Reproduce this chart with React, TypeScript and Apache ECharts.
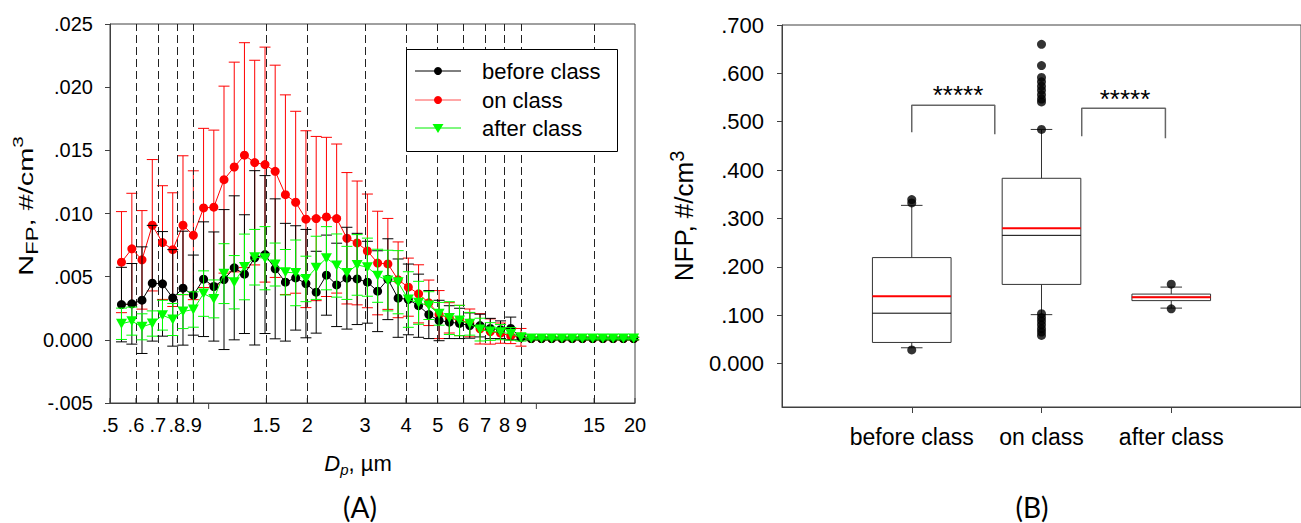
import React, { useEffect, useRef } from 'react';
import * as echarts from 'echarts';

// ---------- Panel A data (APS channel midpoints, µm) ----------
const diameters = [0.542, 0.583, 0.626, 0.673, 0.723, 0.777, 0.835, 0.898, 0.965, 1.037, 1.114, 1.197, 1.286, 1.382, 1.486, 1.596, 1.715, 1.843, 1.981, 2.129, 2.288, 2.458, 2.642, 2.839, 3.051, 3.278, 3.523, 3.786, 4.068, 4.371, 4.698, 5.048, 5.425, 5.829, 6.264, 6.732, 7.234, 7.774, 8.354, 8.977, 9.647, 10.37, 11.14, 11.97, 12.86, 13.82, 14.86, 15.96, 17.15, 18.43, 19.81];

const beforeMean = [0.00279, 0.00285, 0.00314, 0.00448, 0.00443, 0.00332, 0.00409, 0.00354, 0.0048, 0.00422, 0.00477, 0.0057, 0.0052, 0.00649, 0.00675, 0.00562, 0.00456, 0.0049, 0.00445, 0.00377, 0.00512, 0.00435, 0.00488, 0.00482, 0.00456, 0.00385, 0.0048, 0.0033, 0.0032, 0.0027, 0.002, 0.00153, 0.0014, 0.0013, 0.00113, 0.00113, 0.0009, 0.0008, 0.0009, 0.0002, 0.0001, 0.0001, 0.0001, 0.0001, 0.0001, 0.0001, 0.0001, 0.0001, 0.0001, 0.0001, 0.0001];
const beforeSd = [0.00295, 0.00319, 0.00422, 0.00458, 0.00414, 0.00382, 0.00451, 0.00317, 0.00454, 0.00432, 0.00554, 0.0057, 0.0047, 0.0069, 0.00625, 0.00554, 0.00466, 0.00413, 0.00429, 0.00324, 0.00317, 0.0033, 0.00403, 0.00361, 0.00324, 0.0032, 0.0032, 0.0031, 0.0028, 0.0025, 0.0019, 0.0016, 0.0013, 0.0012, 0.001, 0.0009, 0.0008, 0.0007, 0.0009, 0.0002, 0.0001, 0.0001, 0.0001, 0.0001, 0.0001, 0.0001, 0.0001, 0.0001, 0.0001, 0.0001, 0.0001];

const onMean = [0.00615, 0.0072, 0.00633, 0.00907, 0.0077, 0.00714, 0.00907, 0.00828, 0.01044, 0.0105, 0.01268, 0.01368, 0.01462, 0.01403, 0.01387, 0.01334, 0.01149, 0.01089, 0.00955, 0.0096, 0.00973, 0.0096, 0.00804, 0.00767, 0.00704, 0.00608, 0.00601, 0.00475, 0.00417, 0.00364, 0.00293, 0.002, 0.00174, 0.00153, 0.00134, 0.00087, 0.00066, 0.00053, 0.0003, 0.0002, 0.0001, 0.0001, 0.0001, 0.0001, 0.0001, 0.0001, 0.0001, 0.0001, 0.0001, 0.0001, 0.0001];
const onSd = [0.004, 0.0044, 0.0039, 0.0052, 0.0045, 0.0045, 0.0055, 0.0051, 0.0063, 0.0061, 0.0074, 0.0083, 0.0089, 0.0081, 0.0093, 0.0084, 0.0079, 0.0072, 0.007, 0.0065, 0.0063, 0.0059, 0.0052, 0.0049, 0.0045, 0.0041, 0.0036, 0.003, 0.0023, 0.0023, 0.0018, 0.0019, 0.0012, 0.0012, 0.0011, 0.0012, 0.001, 0.0008, 0.0006, 0.0007, 0.0001, 0.0001, 0.0001, 0.0001, 0.0001, 0.0001, 0.0001, 0.0001, 0.0001, 0.0001, 0.0001];

const afterMean = [0.00127, 0.00148, 0.00103, 0.00129, 0.00195, 0.00161, 0.00224, 0.0024, 0.00366, 0.00324, 0.00524, 0.00456, 0.00577, 0.00654, 0.00646, 0.00596, 0.00535, 0.0053, 0.00482, 0.0057, 0.00646, 0.00588, 0.0053, 0.00593, 0.00575, 0.00507, 0.00469, 0.00456, 0.00319, 0.00293, 0.00271, 0.00206, 0.00172, 0.00153, 0.00127, 0.00081, 0.00066, 0.00061, 0.00047, 0.0002, 0.0001, 0.0001, 0.0001, 0.0001, 0.0001, 0.0001, 0.0001, 0.0001, 0.0001, 0.0001, 0.0001];
const afterSd = [0.00124, 0.00111, 0.00103, 0.001, 0.00118, 0.00127, 0.00135, 0.0014, 0.0018, 0.0015, 0.00237, 0.00211, 0.0026, 0.0022, 0.0025, 0.0017, 0.0018, 0.0026, 0.0018, 0.0025, 0.0025, 0.0025, 0.0021, 0.0024, 0.0023, 0.0021, 0.0024, 0.0025, 0.0022, 0.0017, 0.0011, 0.0009, 0.0013, 0.0012, 0.0009, 0.0009, 0.0007, 0.0006, 0.0005, 0.0003, 0.0001, 0.0001, 0.0001, 0.0001, 0.0001, 0.0001, 0.0001, 0.0001, 0.0001, 0.0001, 0.0001];

const seriesNames = ['before class', 'on class', 'after class'];
const xTickValues = [0.5, 0.6, 0.7, 0.8, 0.9, 1, 1.5, 2, 3, 4, 5, 6, 7, 8, 9, 10, 15, 20];
const xTickLabels = ['.5', '.6', '.7', '.8', '.9', '', '1.5', '2', '3', '4', '5', '6', '7', '8', '9', '', '15', '20'];
const xMajorTicks = [1, 10];
const dashedLines = [0.6, 0.7, 0.8, 0.9, 1.5, 2, 3, 4, 5, 6, 7, 8, 9, 15];
const leftYMin = -0.005;
const leftYMax = 0.025;

// ---------- Panel B data ----------
const boxCategories = ['before class', 'on class', 'after class'];
const boxPositions = [1, 2, 3];
const boxWhiskerLow = [0.0325, 0.101, 0.1145];
const boxQ1 = [0.0435, 0.1635, 0.130];
const boxMedian = [0.104, 0.265, 0.137];
const boxQ3 = [0.219, 0.383, 0.1435];
const boxWhiskerHigh = [0.327, 0.484, 0.158];
const boxMean = [0.139, 0.2795, 0.137];
const beforeOutliers = [0.028, 0.332, 0.339];
const onOutliers = [0.484, 0.541, 0.547, 0.556, 0.565, 0.5735, 0.5825, 0.5915, 0.616, 0.66, 0.103, 0.095, 0.088, 0.080, 0.072, 0.065, 0.058];
const afterOutliers = [0.164, 0.113];
const rightYTicks = [0, 0.1, 0.2, 0.3, 0.4, 0.5, 0.6, 0.7];
const bracket1X = [1.0, 1.0, 1.64, 1.64];
const bracket1Y = [0.478, 0.534, 0.534, 0.474];
const bracket2X = [2.31, 2.31, 2.955, 2.955];
const bracket2Y = [0.47, 0.528, 0.528, 0.466];

const FONT = "'Liberation Sans', Arial, sans-serif";
const AXIS_COLOR = '#404040';

function fmt3(v: number) {
  const r = Math.round(v * 1000) / 1000;
  if (r === 0) return '0.000';
  const s = Math.abs(r).toFixed(3).replace(/^0/, '');
  return (r < 0 ? '-' : '') + s;
}

function errorBarSeries(mean: number[], sd: number[], color: string, z: number) {
  return {
    type: 'custom',
    xAxisIndex: 0,
    yAxisIndex: 0,
    z,
    silent: true,
    encode: { x: 0, y: [1, 2] },
    data: diameters.map((d, i) => [d, mean[i] - sd[i], mean[i] + sd[i]]),
    renderItem: (params: any, api: any) => {
      const x = api.value(0);
      const lo = api.coord([x, api.value(1)]);
      const hi = api.coord([x, api.value(2)]);
      const hw = 5.5;
      const st = { stroke: color, lineWidth: 1 };
      return {
        type: 'group',
        children: [
          { type: 'line', shape: { x1: lo[0], y1: lo[1], x2: hi[0], y2: hi[1] }, style: st },
          { type: 'line', shape: { x1: hi[0] - hw, y1: hi[1], x2: hi[0] + hw, y2: hi[1] }, style: st },
          { type: 'line', shape: { x1: lo[0] - hw, y1: lo[1], x2: lo[0] + hw, y2: lo[1] }, style: st },
        ],
      };
    },
  };
}

function lineSeries(name: string, mean: number[], color: string, symbol: string, size: any, rotate: number, z: number) {
  return {
    type: 'line',
    name,
    xAxisIndex: 0,
    yAxisIndex: 0,
    z,
    data: diameters.map((d, i) => [d, mean[i]]),
    symbol,
    symbolSize: size,
    symbolRotate: rotate,
    showSymbol: true,
    lineStyle: { color, width: 1 },
    itemStyle: { color, borderWidth: 0 },
  };
}

function buildOption() {
  const outlierData: number[][] = [];
  beforeOutliers.forEach((v) => outlierData.push([boxPositions[0], v]));
  onOutliers.forEach((v) => outlierData.push([boxPositions[1], v]));
  afterOutliers.forEach((v) => outlierData.push([boxPositions[2], v]));

  const legendY = [71, 100, 128];
  const legendColors = ['#000000', '#ff5050', '#00ee00'];
  const legendGraphics: any[] = [
    { type: 'rect', z: 100, shape: { x: 406.5, y: 49.5, width: 211, height: 102 }, style: { fill: '#fff', stroke: '#000', lineWidth: 1 } },
  ];
  seriesNames.forEach((n, i) => {
    legendGraphics.push({ type: 'line', z: 101, shape: { x1: 415, y1: legendY[i], x2: 461, y2: legendY[i] }, style: { stroke: legendColors[i], lineWidth: 1 } });
    if (i < 2) {
      legendGraphics.push({ type: 'circle', z: 102, shape: { cx: 438, cy: legendY[i], r: 4 }, style: { fill: i === 0 ? '#000' : '#ff0000' } });
    } else {
      legendGraphics.push({ type: 'polygon', z: 102, shape: { points: [[432.5, legendY[i] - 4], [443.5, legendY[i] - 4], [438, legendY[i] + 5]] }, style: { fill: '#00ff00' } });
    }
    legendGraphics.push({ type: 'text', z: 102, x: 482, y: legendY[i], style: { text: n, font: `22px ${FONT}`, fill: '#000', align: 'left', verticalAlign: 'middle' } });
  });

  return {
    animation: false,
    backgroundColor: '#ffffff',
    textStyle: { fontFamily: FONT },
    grid: [
      { left: 110, top: 24, width: 525, height: 379, show: true, borderColor: AXIS_COLOR, borderWidth: 1, backgroundColor: 'transparent' },
      { left: 782, top: 25, width: 528, height: 382, show: true, borderColor: AXIS_COLOR, borderWidth: 1, backgroundColor: 'transparent' },
    ],
    xAxis: [
      {
        type: 'log', logBase: 10, gridIndex: 0, min: 0.5, max: 20,
        axisLine: { show: true, onZero: false, lineStyle: { color: AXIS_COLOR } },
        axisTick: { show: false }, axisLabel: { show: false },
        splitLine: { show: false }, minorTick: { show: false },
      },
      {
        type: 'value', gridIndex: 1, min: 0, max: 4, interval: 1,
        axisLine: { show: true, onZero: false, lineStyle: { color: AXIS_COLOR } },
        axisTick: { show: true, length: 6, customValues: boxPositions, lineStyle: { color: AXIS_COLOR } },
        axisLabel: {
          show: true, customValues: boxPositions, fontSize: 23, color: '#000', fontFamily: FONT, margin: 18,
          formatter: (v: number) => boxCategories[Math.round(v) - 1] || '',
        },
        splitLine: { show: false },
      },
    ],
    yAxis: [
      {
        type: 'value', gridIndex: 0, min: leftYMin, max: leftYMax, interval: 0.005,
        axisLine: { show: true, onZero: false, lineStyle: { color: AXIS_COLOR } },
        axisTick: { show: true, length: 5, lineStyle: { color: AXIS_COLOR } },
        axisLabel: { fontSize: 20, color: '#000', fontFamily: FONT, margin: 17, formatter: fmt3 },
        splitLine: { show: false },
      },
      {
        type: 'value', gridIndex: 1, min: -0.09, max: 0.7,
        axisLine: { show: true, onZero: false, lineStyle: { color: AXIS_COLOR } },
        axisTick: { show: true, length: 5, customValues: rightYTicks, lineStyle: { color: AXIS_COLOR } },
        axisLabel: { fontSize: 22, color: '#000', fontFamily: FONT, margin: 18, customValues: rightYTicks, formatter: fmt3 },
        splitLine: { show: false },
      },
    ],
    series: [
      {
        type: 'line', xAxisIndex: 0, yAxisIndex: 0, z: 1, data: [], silent: true,
        markLine: {
          silent: true, symbol: 'none', label: { show: false },
          lineStyle: { type: [8, 4], color: '#222', width: 1 },
          data: dashedLines.map((v) => ({ xAxis: v })),
        },
      },
      // x-axis ticks and labels of panel A, through the log scale
      {
        type: 'custom', xAxisIndex: 0, yAxisIndex: 0, z: 3, silent: true, clip: false,
        encode: { x: 0, y: 1 },
        data: xTickValues.map((v) => [v, leftYMin]),
        renderItem: (params: any, api: any) => {
          const v = api.value(0);
          const p = api.coord([v, leftYMin]);
          const major = xMajorTicks.indexOf(v) >= 0;
          const label = xTickLabels[params.dataIndex];
          return {
            type: 'group',
            children: [
              { type: 'line', shape: { x1: p[0], y1: p[1], x2: p[0], y2: major ? p[1] + 6 : p[1] - 5 }, style: { stroke: AXIS_COLOR, lineWidth: 1 } },
              { type: 'text', x: p[0], y: p[1] + 12, style: { text: label, font: `20px ${FONT}`, fill: '#000', align: 'center', verticalAlign: 'top' } },
            ],
          };
        },
      },
      errorBarSeries(onMean, onSd, '#ff0000', 4),
      lineSeries('on class', onMean, '#ff0000', 'circle', 9, 0, 5),
      errorBarSeries(beforeMean, beforeSd, '#000000', 6),
      lineSeries('before class', beforeMean, '#000000', 'circle', 9, 0, 7),
      errorBarSeries(afterMean, afterSd, '#00ff00', 8),
      lineSeries('after class', afterMean, '#00ff00', 'triangle', [11, 10], 180, 9),
      // Panel B box plots
      {
        type: 'custom', xAxisIndex: 1, yAxisIndex: 1, z: 4, silent: true,
        encode: { x: 0, y: [1, 2, 3, 4, 5, 6] },
        data: boxPositions.map((x, i) => [x, boxWhiskerLow[i], boxQ1[i], boxMedian[i], boxQ3[i], boxWhiskerHigh[i], boxMean[i]]),
        renderItem: (params: any, api: any) => {
          const x = api.value(0);
          const lo = api.value(1), q1 = api.value(2), med = api.value(3), q3 = api.value(4), hi = api.value(5), mean = api.value(6);
          const boxHalf = 0.303, capHalf = 0.083;
          const L = api.coord([x - boxHalf, q1]);
          const R = api.coord([x + boxHalf, q3]);
          const cx = api.coord([x, 0])[0];
          const capL = api.coord([x - capHalf, 0])[0];
          const capR = api.coord([x + capHalf, 0])[0];
          const y = (v: number) => api.coord([x, v])[1];
          const st = { stroke: '#333', lineWidth: 1 };
          return {
            type: 'group',
            children: [
              { type: 'line', shape: { x1: cx, y1: y(hi), x2: cx, y2: y(q3) }, style: st },
              { type: 'line', shape: { x1: cx, y1: y(q1), x2: cx, y2: y(lo) }, style: st },
              { type: 'line', shape: { x1: capL, y1: y(hi), x2: capR, y2: y(hi) }, style: st },
              { type: 'line', shape: { x1: capL, y1: y(lo), x2: capR, y2: y(lo) }, style: st },
              { type: 'rect', shape: { x: L[0], y: R[1], width: R[0] - L[0], height: L[1] - R[1] }, style: { stroke: '#333', lineWidth: 1, fill: 'none' } },
              { type: 'line', shape: { x1: L[0], y1: y(med), x2: R[0], y2: y(med) }, style: { stroke: '#000', lineWidth: 1 } },
              { type: 'line', shape: { x1: L[0], y1: y(mean), x2: R[0], y2: y(mean) }, style: { stroke: '#ff0000', lineWidth: 2 } },
            ],
          };
        },
      },
      {
        type: 'scatter', xAxisIndex: 1, yAxisIndex: 1, z: 5, silent: true,
        symbol: 'circle', symbolSize: 9, itemStyle: { color: '#000' },
        data: outlierData,
      },
      {
        type: 'line', xAxisIndex: 1, yAxisIndex: 1, z: 5, silent: true, symbol: 'none',
        lineStyle: { color: '#666', width: 1.5 },
        data: bracket1X.map((x, i) => [x, bracket1Y[i]]),
      },
      {
        type: 'line', xAxisIndex: 1, yAxisIndex: 1, z: 5, silent: true, symbol: 'none',
        lineStyle: { color: '#666', width: 1.5 },
        data: bracket2X.map((x, i) => [x, bracket2Y[i]]),
      },
    ],
    graphic: [
      ...legendGraphics,
      // panel A y title
      {
        type: 'text', x: 26, y: 206, rotation: Math.PI / 2, scaleX: 1.38, z: 50,
        style: {
          text: '{n|N}{s|FP}{n|, #/cm}{p|3}',
          align: 'center', verticalAlign: 'middle', fill: '#000',
          rich: {
            n: { fontSize: 21, fontFamily: FONT, lineHeight: 30, verticalAlign: 'middle', fill: '#000' },
            s: { fontSize: 16, fontFamily: FONT, lineHeight: 26, verticalAlign: 'bottom', fill: '#000' },
            p: { fontSize: 15, fontFamily: FONT, lineHeight: 10, verticalAlign: 'top', fill: '#000' },
          },
        },
      },
      // panel A x title
      {
        type: 'text', x: 358, y: 463, z: 50,
        style: {
          text: '{d|D}{s|p}{n|, µm}',
          align: 'center', verticalAlign: 'middle', fill: '#000',
          rich: {
            d: { fontSize: 22, fontFamily: FONT, fontStyle: 'italic', lineHeight: 28, verticalAlign: 'middle', fill: '#000' },
            s: { fontSize: 15, fontFamily: FONT, fontStyle: 'italic', lineHeight: 14, verticalAlign: 'bottom', fill: '#000' },
            n: { fontSize: 22, fontFamily: FONT, lineHeight: 28, verticalAlign: 'middle', fill: '#000' },
          },
        },
      },
      // panel B y title
      {
        type: 'text', x: 684, y: 216, rotation: Math.PI / 2, z: 50,
        style: {
          text: '{n|NFP, #/cm}{p|3}',
          align: 'center', verticalAlign: 'middle', fill: '#000',
          rich: {
            n: { fontSize: 26, fontFamily: FONT, lineHeight: 34, verticalAlign: 'middle', fill: '#000' },
            p: { fontSize: 20, fontFamily: FONT, lineHeight: 12, verticalAlign: 'top', fill: '#000' },
          },
        },
      },
      // significance stars
      { type: 'text', x: 958, y: 95, z: 50, style: { text: '*****', font: `26px ${FONT}`, fill: '#000', align: 'center', verticalAlign: 'middle' } },
      { type: 'text', x: 1125, y: 99, z: 50, style: { text: '*****', font: `26px ${FONT}`, fill: '#000', align: 'center', verticalAlign: 'middle' } },
      // panel letters
      { type: 'text', x: 360, y: 507, z: 50, style: { text: '(A)', font: '28px Lato, sans-serif', fill: '#000', align: 'center', verticalAlign: 'middle' } },
      { type: 'text', x: 1032, y: 507, z: 50, style: { text: '(B)', font: '28px Lato, sans-serif', fill: '#000', align: 'center', verticalAlign: 'middle' } },
    ],
  };
}

export default function App() {
  const ref = useRef<HTMLDivElement>(null);
  useEffect(() => {
    if (!ref.current) return;
    const chart = echarts.init(ref.current, null, { renderer: 'svg' });
    chart.setOption(buildOption() as any);
    return () => chart.dispose();
  }, []);
  return <div ref={ref} style={{ position: 'absolute', left: 0, top: 0, width: 1301, height: 523 }} />;
}
